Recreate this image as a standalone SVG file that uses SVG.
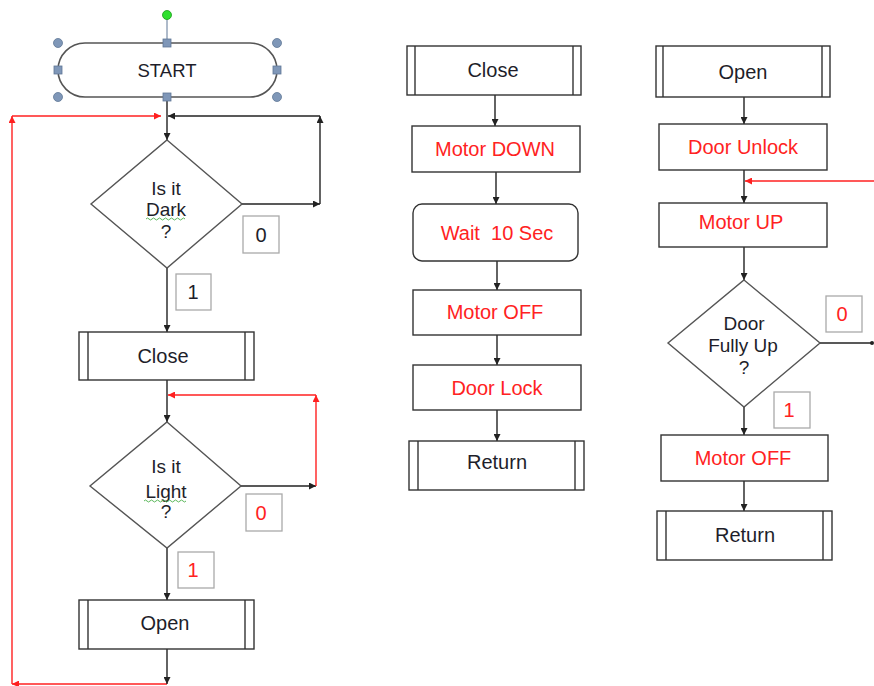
<svg xmlns="http://www.w3.org/2000/svg" width="874" height="686" viewBox="0 0 874 686">
<defs>
<style>
.box{fill:#fff;stroke:#333;stroke-width:1.4}
.dia{fill:#fff;stroke:#555;stroke-width:1.4}
.lbl{fill:#fff;stroke:#aaa;stroke-width:1.3}
.t{font-family:"Liberation Sans",Arial,sans-serif;font-size:20px;fill:#1e1e2a;text-anchor:middle}
.d{font-size:19px}
.r{fill:#ff2222}
.c{fill:none;stroke:#222;stroke-width:1.4}
.cr{fill:none;stroke:#ff2020;stroke-width:1.4}
.h{fill:#7f97b8;stroke:#5f7796;stroke-width:0.8}
.sq{fill:none;stroke:#5bb85b;stroke-width:1}
</style>
<marker id="ab" viewBox="0 0 10 10" refX="10" refY="5" markerWidth="7" markerHeight="7" markerUnits="userSpaceOnUse" orient="auto"><path d="M0,0 L10,5 L0,10 z" fill="#222"/></marker>
<marker id="ar" viewBox="0 0 10 10" refX="10" refY="5" markerWidth="7" markerHeight="7" markerUnits="userSpaceOnUse" orient="auto"><path d="M0,0 L10,5 L0,10 z" fill="#ff2020"/></marker>
<marker id="dot" viewBox="0 0 10 10" refX="5" refY="5" markerWidth="4" markerHeight="4" markerUnits="userSpaceOnUse"><circle cx="5" cy="5" r="5" fill="#222"/></marker>
</defs>
<rect width="874" height="686" fill="#fff"/>

<g id="connectors">
<path class="c" d="M167,97 V140" marker-end="url(#ab)"/>
<path class="cr" d="M167,684 H12" marker-end="url(#ar)"/>
<path class="cr" d="M12,684 V116" marker-end="url(#ar)"/>
<path class="cr" d="M12,116 H161" marker-end="url(#ar)"/>
<path class="c" d="M242,204 H320" marker-end="url(#ab)"/>
<path class="c" d="M320,204 V116" marker-end="url(#ab)"/>
<path class="c" d="M320,116 H168" marker-end="url(#ab)"/>
<path class="c" d="M167,268 V332" marker-end="url(#ab)"/>
<path class="c" d="M167,380 V422" marker-end="url(#ab)"/>
<path class="c" d="M241,486 H316" marker-end="url(#ab)"/>
<path class="cr" d="M316,486 V395" marker-end="url(#ar)"/>
<path class="cr" d="M316,395 H168" marker-end="url(#ar)"/>
<path class="c" d="M167,548 V600" marker-end="url(#ab)"/>
<path class="c" d="M167,649 V684" marker-end="url(#ab)"/>

<path class="c" d="M495,95 V126" marker-end="url(#ab)"/>
<path class="c" d="M496,172 V204" marker-end="url(#ab)"/>
<path class="c" d="M497,261 V290" marker-end="url(#ab)"/>
<path class="c" d="M497,335 V365" marker-end="url(#ab)"/>
<path class="c" d="M497,410 V441" marker-end="url(#ab)"/>

<path class="c" d="M744,97 V124" marker-end="url(#ab)"/>
<path class="c" d="M744,170 V203" marker-end="url(#ab)"/>
<path class="cr" d="M874,181 H745" marker-end="url(#ar)"/>
<path class="c" d="M744,247 V280" marker-end="url(#ab)"/>
<path class="c" d="M820,343 H872" marker-end="url(#dot)"/>
<path class="c" d="M744,407 V435" marker-end="url(#ab)"/>
<path class="c" d="M744,481 V511" marker-end="url(#ab)"/>
</g>

<g id="start">
<line x1="167" y1="15" x2="167" y2="43" stroke="#5f7796" stroke-width="1"/>
<rect x="58" y="43" width="219" height="54" rx="27" fill="#fff" stroke="#555" stroke-width="1.6"/>
<text class="t" x="167" y="77" style="font-size:18.5px">START</text>
<circle cx="167" cy="15" r="4.5" fill="#2ee02e" stroke="#1a9a1a" stroke-width="0.8"/>
<circle class="h" cx="58" cy="43" r="4.5"/>
<circle class="h" cx="277" cy="43" r="4.5"/>
<circle class="h" cx="58" cy="97" r="4.5"/>
<circle class="h" cx="277" cy="97" r="4.5"/>
<rect class="h" x="163" y="39" width="8" height="8"/>
<rect class="h" x="54" y="66" width="8" height="8"/>
<rect class="h" x="273" y="66" width="8" height="8"/>
<rect class="h" x="163" y="93" width="8" height="8"/>
</g>

<g id="dark">
<polygon class="dia" points="167,140 242,204 167,268 91,204"/>
<text class="t d" x="166" y="195">Is it</text>
<text class="t d" x="166" y="216">Dark</text>
<text class="t d" x="166" y="238">?</text>
<path class="sq" d="M146,219 q1.5,-2 3,0 t3,0 t3,0 t3,0 t3,0 t3,0 t3,0 t3,0 t3,0 t3,0 t3,0 t3,0 t3,0"/>
</g>
<g id="dark-0"><rect class="lbl" x="243" y="216" width="36" height="37"/><text class="t" x="261" y="242">0</text></g>
<g id="dark-1"><rect class="lbl" x="176" y="274" width="35" height="36"/><text class="t" x="193" y="299">1</text></g>

<g id="close-call">
<rect class="box" x="79" y="332" width="175" height="48"/>
<line class="box" x1="88" y1="332" x2="88" y2="380"/>
<line class="box" x1="245" y1="332" x2="245" y2="380"/>
<text class="t" x="163" y="363">Close</text>
</g>

<g id="light">
<polygon class="dia" points="167,422 241,486 167,548 90,486"/>
<text class="t d" x="166" y="473">Is it</text>
<text class="t d" x="166" y="498">Light</text>
<text class="t d" x="166" y="518">?</text>
<path class="sq" d="M144,501 q1.5,-2 3,0 t3,0 t3,0 t3,0 t3,0 t3,0 t3,0 t3,0 t3,0 t3,0 t3,0 t3,0 t3,0 t3,0"/>
</g>
<g id="light-0"><rect class="lbl" x="246" y="494" width="36" height="37"/><text class="t r" x="261" y="520">0</text></g>
<g id="light-1"><rect class="lbl" x="178" y="552" width="36" height="36"/><text class="t r" x="193" y="577">1</text></g>

<g id="open-call">
<rect class="box" x="79" y="600" width="175" height="49"/>
<line class="box" x1="88" y1="600" x2="88" y2="649"/>
<line class="box" x1="245" y1="600" x2="245" y2="649"/>
<text class="t" x="165" y="630">Open</text>
</g>

<g id="close-sub">
<rect class="box" x="407" y="46" width="174" height="49"/>
<line class="box" x1="415" y1="46" x2="415" y2="95"/>
<line class="box" x1="573" y1="46" x2="573" y2="95"/>
<text class="t" x="493" y="77">Close</text>
</g>
<g id="motor-down">
<rect class="box" x="412" y="126" width="168" height="46"/>
<text class="t r" x="495" y="156">Motor DOWN</text>
</g>
<g id="wait">
<rect class="box" x="413" y="204" width="165" height="57" rx="9"/>
<text class="t r" x="497" y="240" xml:space="preserve">Wait  10 Sec</text>
</g>
<g id="motor-off-1">
<rect class="box" x="413" y="290" width="168" height="45"/>
<text class="t r" x="495" y="319">Motor OFF</text>
</g>
<g id="door-lock">
<rect class="box" x="413" y="365" width="168" height="45"/>
<text class="t r" x="497" y="395">Door Lock</text>
</g>
<g id="return-1">
<rect class="box" x="409" y="441" width="175" height="49"/>
<line class="box" x1="418" y1="441" x2="418" y2="490"/>
<line class="box" x1="575" y1="441" x2="575" y2="490"/>
<text class="t" x="497" y="469">Return</text>
</g>

<g id="open-sub">
<rect class="box" x="656" y="46" width="174" height="51"/>
<line class="box" x1="663" y1="46" x2="663" y2="97"/>
<line class="box" x1="822" y1="46" x2="822" y2="97"/>
<text class="t" x="743" y="79">Open</text>
</g>
<g id="door-unlock">
<rect class="box" x="659" y="124" width="168" height="46"/>
<text class="t r" x="743" y="154">Door Unlock</text>
</g>
<g id="motor-up">
<rect class="box" x="659" y="203" width="168" height="44"/>
<text class="t r" x="741" y="229">Motor UP</text>
</g>
<g id="fully-up">
<polygon class="dia" points="744,280 820,343 744,407 668,343"/>
<text class="t d" x="744" y="330">Door</text>
<text class="t d" x="743" y="352">Fully Up</text>
<text class="t d" x="744" y="374">?</text>
</g>
<g id="fully-0"><rect class="lbl" x="826" y="296" width="36" height="36"/><text class="t r" x="842" y="321">0</text></g>
<g id="fully-1"><rect class="lbl" x="774" y="392" width="36" height="36"/><text class="t r" x="789" y="417">1</text></g>
<g id="motor-off-2">
<rect class="box" x="661" y="435" width="167" height="46"/>
<text class="t r" x="743" y="465">Motor OFF</text>
</g>
<g id="return-2">
<rect class="box" x="657" y="511" width="175" height="49"/>
<line class="box" x1="666" y1="511" x2="666" y2="560"/>
<line class="box" x1="823" y1="511" x2="823" y2="560"/>
<text class="t" x="745" y="542">Return</text>
</g>
</svg>
